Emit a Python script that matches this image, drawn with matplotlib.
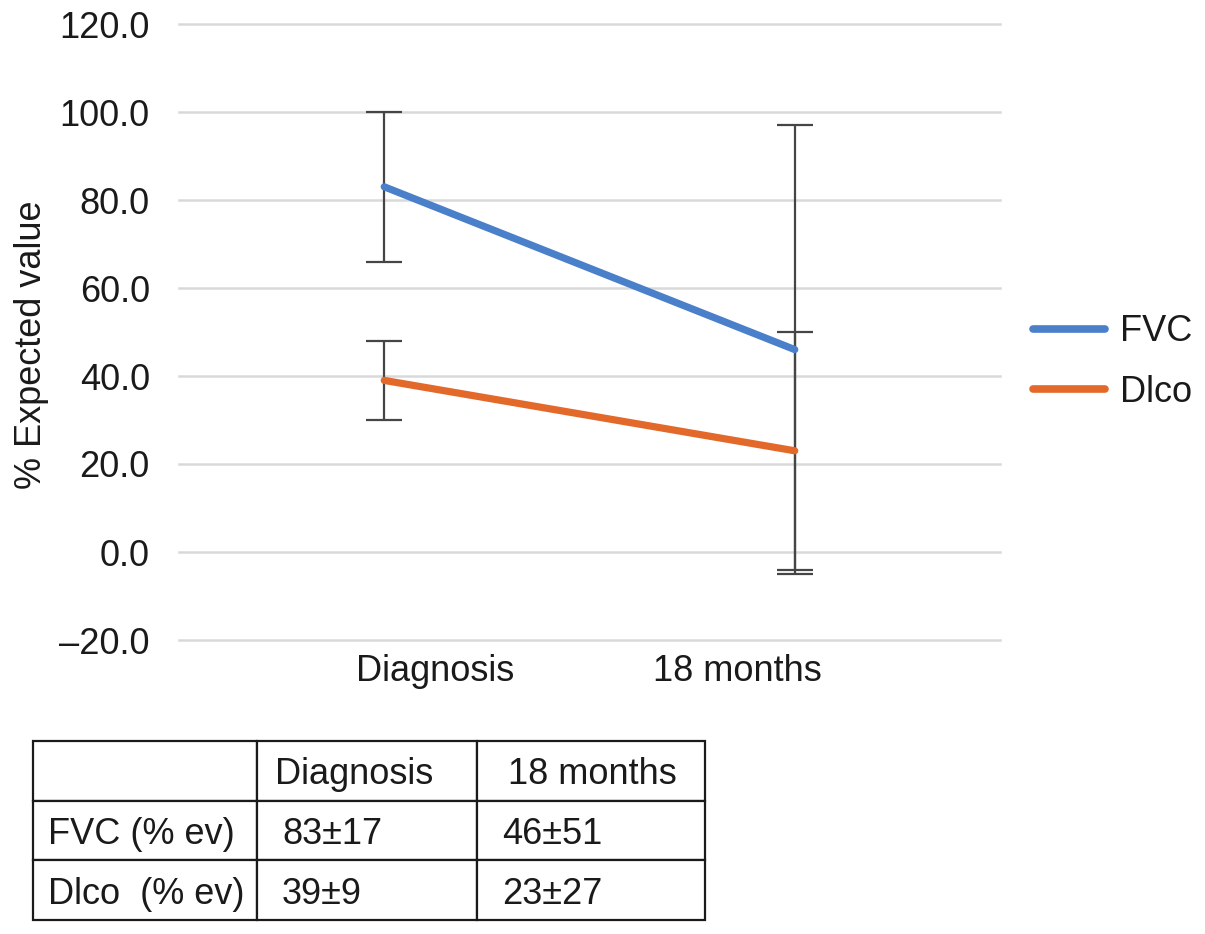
import matplotlib
matplotlib.use("Agg")
import matplotlib.pyplot as plt
import matplotlib.transforms as mtrans

plt.rcParams['font.family'] = ['Liberation Sans', 'DejaVu Sans']

categories = ["Diagnosis", "18 months"]
series_names = ["FVC", "Dlco"]
fvc_mean = [83, 46]
fvc_sd = [17, 51]
dlco_mean = [39, 23]
dlco_sd = [9, 27]
yticks = [-20, 0, 20, 40, 60, 80, 100, 120]

table_header = ["", "Diagnosis", "18 months"]
table_rows = [
    ["FVC (% ev)", "83\u00b117", "46\u00b151"],
    ["Dlco  (% ev)", "39\u00b19", "23\u00b127"],
]

blue = "#4a7fc9"
orange = "#e2692a"
ebar_col = "#454545"
txt_col = "#1a1a1a"
fs = 26

W, H = 1205, 934
fig = plt.figure(figsize=(W / 100, H / 100), dpi=100)
ax = fig.add_axes([179 / W, 1 - 640 / H, (1000 - 179) / W, (640 - 24) / H])

x = list(range(len(categories)))
ax.errorbar(x, fvc_mean, yerr=fvc_sd, fmt="none", ecolor=ebar_col, elinewidth=1.6,
            capsize=13, capthick=1.6, zorder=2)
ax.errorbar(x, dlco_mean, yerr=dlco_sd, fmt="none", ecolor=ebar_col, elinewidth=1.6,
            capsize=13, capthick=1.6, zorder=2)
ax.plot(x, fvc_mean, color=blue, lw=5.2, label=series_names[0], zorder=3,
        solid_capstyle="round")
ax.plot(x, dlco_mean, color=orange, lw=5.2, label=series_names[1], zorder=3,
        solid_capstyle="round")

ax.set_xlim(-0.5, 1.5)
ax.set_ylim(-20, 120)
ax.set_yticks(yticks)
ax.set_yticklabels([("\u2013" if v < 0 else "") + f"{abs(v):.1f}" for v in yticks])
ax.set_xticks(x)
ax.set_xticklabels(categories)
ax.tick_params(axis="both", length=0, labelsize=fs, colors=txt_col)
ax.tick_params(axis="y", pad=21)
ax.tick_params(axis="x", pad=10)
# category labels in the reference sit shifted toward the centre
shifts_px = [51, -57]
for lab, dx in zip(ax.get_xticklabels(), shifts_px):
    lab.set_transform(lab.get_transform() +
                      mtrans.ScaledTranslation(dx / 100, 0, fig.dpi_scale_trans))
for s in ax.spines.values():
    s.set_visible(False)
ax.grid(axis="y", color="#d9d9d9", lw=1.8)
for gl in ax.get_ygridlines():
    gl.set_clip_on(False)
ax.set_axisbelow(True)
ax.set_ylabel("% Expected value", fontsize=fs, color=txt_col)
ax.yaxis.set_label_coords(-0.158, 0.479)

leg = fig.legend(loc="center left", bbox_to_anchor=(1033 / W, 1 - 362 / H),
                 frameon=False, fontsize=fs, handlelength=2.0, handletextpad=0.4,
                 labelspacing=0.7, borderpad=0, borderaxespad=0)
for t in leg.get_texts():
    t.set_color(txt_col)
for ln in leg.get_lines():
    ln.set_linewidth(5.5)

# table
tax = fig.add_axes([33 / W, 1 - 920 / H, (705 - 33) / W, (920 - 741) / H])
tax.axis("off")
col_w = [224 / 672, 220 / 672, 228 / 672]
tbl = tax.table(cellText=table_rows, colLabels=table_header, colWidths=col_w,
                bbox=[0, 0, 1, 1], cellLoc="left", colLoc="left")
tbl.auto_set_font_size(False)
head_pads = [0.065, 0.082, 0.136]
body_pads = [0.065, 0.114, 0.11]
for (r, c), cell in tbl.get_celld().items():
    cell.set_linewidth(1.6)
    cell.set_edgecolor(txt_col)
    cell.PAD = head_pads[c] if r == 0 else body_pads[c]
    t = cell.get_text()
    t.set_fontsize(fs)
    t.set_color(txt_col)
    t.set_transform(t.get_transform() +
                    mtrans.ScaledTranslation(0, -4 / 100, fig.dpi_scale_trans))

fig.savefig("out.png", dpi=100)
